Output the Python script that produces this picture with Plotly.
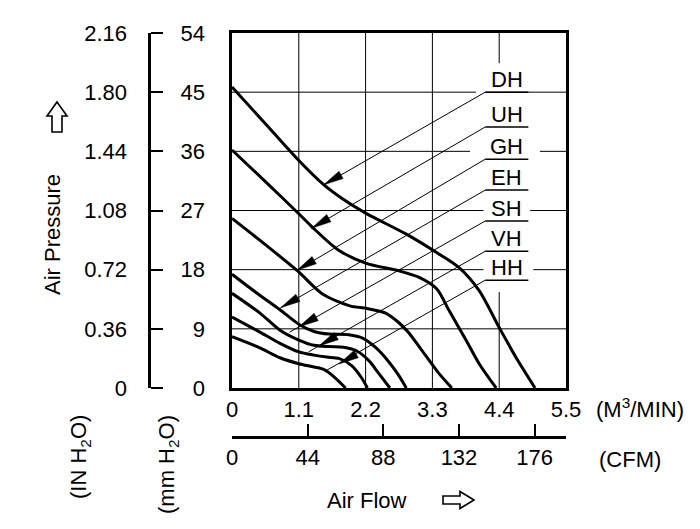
import math
import plotly.graph_objects as go

# ---------------- data ----------------
flow_ticks = [0, 1.1, 2.2, 3.3, 4.4, 5.5]
flow_labels = ["0", "1.1", "2.2", "3.3", "4.4", "5.5"]
cfm_ticks = [0, 44, 88, 132, 176]
cfm_labels = ["0", "44", "88", "132", "176"]
mm_ticks = [0, 9, 18, 27, 36, 45, 54]
mm_labels = ["0", "9", "18", "27", "36", "45", "54"]
in_labels = ["0", "0.36", "0.72", "1.08", "1.44", "1.80", "2.16"]
M3MIN_PER_CFM = 0.0283168

names = ["DH", "UH", "GH", "EH", "SH", "VH", "HH"]

DH_flow = [0, 0.55, 1.1, 1.5, 1.8, 2.2, 2.87, 3.37, 3.74, 4.07, 4.40, 4.68, 4.99]
DH_pres = [45.8, 40.2, 34.6, 31.0, 28.9, 26.6, 23.4, 20.6, 18.3, 14.8, 9.2, 4.6, 0]
UH_flow = [0, 0.55, 1.1, 1.33, 1.75, 2.2, 2.76, 3.09, 3.37, 3.58, 3.86, 4.07, 4.35]
UH_pres = [36.2, 31.4, 26.5, 24.4, 21.0, 19.0, 17.8, 16.8, 15.1, 11.7, 7.2, 3.7, 0]
GH_flow = [0, 0.55, 1.08, 1.49, 1.94, 2.22, 2.53, 2.74, 2.91, 3.12, 3.40, 3.62]
GH_pres = [25.8, 21.8, 17.8, 14.3, 12.5, 12.1, 11.4, 10.0, 8.4, 5.8, 2.3, 0]
EH_flow = [0, 0.4, 0.79, 1.1, 1.35, 1.6, 1.92, 2.15, 2.36, 2.58, 2.74, 2.87]
EH_pres = [17.3, 14.5, 11.9, 9.7, 8.6, 8.2, 8.1, 7.6, 6.2, 4.0, 2.0, 0]
SH_flow = [0, 0.46, 0.79, 1.1, 1.35, 1.6, 1.84, 2.04, 2.25, 2.41, 2.6]
SH_pres = [14.4, 11.4, 8.8, 7.3, 6.5, 6.3, 6.2, 5.7, 4.2, 2.3, 0]
VH_flow = [0, 0.46, 0.79, 1.1, 1.35, 1.56, 1.76, 1.97, 2.13, 2.23]
VH_pres = [10.8, 8.5, 6.8, 5.5, 5.0, 4.7, 4.5, 3.4, 1.6, 0]
HH_flow = [0, 0.46, 0.79, 1.1, 1.35, 1.52, 1.68, 1.87]
HH_pres = [7.8, 6.1, 4.6, 3.7, 3.2, 2.8, 1.7, 0]

curve_flow = [DH_flow, UH_flow, GH_flow, EH_flow, SH_flow, VH_flow, HH_flow]
curve_pres = [DH_pres, UH_pres, GH_pres, EH_pres, SH_pres, VH_pres, HH_pres]

# curve labels and their leader lines (data coordinates)
label_flow_start = 4.17
label_flow_end = 4.88
label_pres = [45.0, 39.7, 34.8, 30.1, 25.4, 20.8, 16.4]
tip_flow = [1.51, 1.31, 1.07, 0.80, 1.10, 1.43, 1.76]
tip_pres = [30.9, 24.3, 17.9, 12.2, 9.3, 6.4, 3.65]
tail_flow = [None, None, None, None, 0.95, 1.26, 1.56]
tail_pres = [None, None, None, None, 8.5, 5.5, 2.7]

# grid lines and the gaps left open around the labels
grid_pres = [9, 18, 27, 36, 45]
grid_pres_gap = {45: (4.02, 4.17), 36: (3.92, 5.07), 27: (4.14, 4.91), 18: (4.14, 4.96)}
grid_flow = [1.1, 2.2, 3.3, 4.4]
grid_flow_gap = {4.4: (14.6, 49.4)}

# ---------------- layout helpers ----------------
W, H = 700, 529
ML, MR, MT, MB = 0, 133, 33, 0
PW, PH = W - ML - MR, H - MT - MB
PLOT_L, PLOT_R, PLOT_T, PLOT_B = 232, 566, 33, 388
X_MAX, Y_MAX = 5.5, 54
PX_PER_X = (PLOT_R - PLOT_L) / X_MAX
PX_PER_Y = (PLOT_B - PLOT_T) / Y_MAX


def px_x(px):
    return (px - ML) / PW


def px_y(py):
    return (H - MB - py) / PH


def paper_path(points):
    return "M" + " L".join(f"{px_x(a):.5f},{px_y(b):.5f}" for a, b in points) + " Z"


FONT = "Liberation Sans, Arial, Helvetica, sans-serif"
fig = go.Figure()

for name, fx, py in zip(names, curve_flow, curve_pres):
    fig.add_trace(go.Scatter(x=fx, y=py, mode="lines", name=name,
                             line=dict(color="black", width=3, shape="spline", smoothing=0.8),
                             showlegend=False, hoverinfo="skip"))

shapes = []

# leaders
for i, name in enumerate(names):
    end_x = tail_flow[i] if tail_flow[i] is not None else tip_flow[i]
    end_y = tail_pres[i] if tail_pres[i] is not None else tip_pres[i]
    shapes.append(dict(type="line", xref="x", yref="y", x0=label_flow_start, y0=label_pres[i],
                       x1=end_x, y1=end_y, line=dict(color="black", width=1)))
    # arrowhead: elongated filled triangle, built in pixel space along the leader
    dx = (label_flow_start - tip_flow[i]) * PX_PER_X
    dy = (label_pres[i] - tip_pres[i]) * PX_PER_Y
    n = math.hypot(dx, dy)
    ux, uy = dx / n, dy / n
    L, HW = 20, 4.2
    bx, by = ux * L, uy * L
    pts = [(0, 0), (bx - uy * HW, by + ux * HW), (bx + uy * HW, by - ux * HW)]
    path = "M" + " L".join(f"{tip_flow[i] + a / PX_PER_X:.5f},{tip_pres[i] + b / PX_PER_Y:.5f}"
                           for a, b in pts) + " Z"
    shapes.append(dict(type="path", xref="x", yref="y", path=path, fillcolor="black",
                       line=dict(color="black", width=0.5)))

for g in grid_pres:
    if g in grid_pres_gap:
        a, b = grid_pres_gap[g]
        segs = [(0, a), (b, X_MAX)]
    else:
        segs = [(0, X_MAX)]
    for s0, s1 in segs:
        shapes.append(dict(type="line", xref="x", yref="y", x0=s0, x1=s1, y0=g, y1=g,
                           line=dict(color="black", width=1), layer="below"))
for g in grid_flow:
    if g in grid_flow_gap:
        a, b = grid_flow_gap[g]
        segs = [(0, a), (b, Y_MAX)]
    else:
        segs = [(0, Y_MAX)]
    for s0, s1 in segs:
        shapes.append(dict(type="line", xref="x", yref="y", x0=g, x1=g, y0=s0, y1=s1,
                           line=dict(color="black", width=1), layer="below"))
for lp in label_pres:
    shapes.append(dict(type="line", xref="x", yref="y", x0=label_flow_start, x1=label_flow_end,
                       y0=lp, y1=lp, line=dict(color="black", width=1.5)))

# outlined direction arrows next to the axis titles
up_arrow = [(57, 102), (67, 116), (62, 116), (62, 132), (52, 132), (52, 116), (47, 116)]
right_arrow = [(474, 500), (460, 491.5), (460, 496), (443, 496), (443, 504), (460, 504), (460, 508.5)]
for arr in (up_arrow, right_arrow):
    shapes.append(dict(type="path", xref="paper", yref="paper", path=paper_path(arr),
                       fillcolor="white", line=dict(color="black", width=1.6)))

annotations = []
for name, lp in zip(names, label_pres):
    annotations.append(dict(x=(label_flow_start + label_flow_end) / 2, y=lp, xref="x", yref="y",
                            text=name, showarrow=False, yanchor="bottom", xanchor="center",
                            font=dict(size=22, family=FONT, color="black"), yshift=-2))


def paper_text(text, x, y, size=22, angle=0, family=FONT):
    annotations.append(dict(x=px_x(x), y=px_y(y), xref="paper", yref="paper", text=text,
                            showarrow=False, textangle=angle, xanchor="center", yanchor="middle",
                            font=dict(size=size, family=family, color="black")))


paper_text("Air Pressure", 52, 235, angle=-90)
paper_text("(IN H<sub>2</sub>O)", 80, 457, angle=-90)
paper_text("(mm H<sub>2</sub>O)", 168, 465, angle=-90)
paper_text("Air Flow", 367, 500)
paper_text("(M<sup>3</sup>/MIN)", 640, 408)
paper_text("(CFM)", 630, 459)

dom_x = [px_x(PLOT_L), px_x(PLOT_R)]
dom_y = [px_y(PLOT_B), px_y(PLOT_T)]
tickfont = dict(size=22, family=FONT, color="black")

fig.update_layout(
    template="none",
    width=W, height=H, margin=dict(l=ML, r=MR, t=MT, b=MB, pad=0),
    plot_bgcolor="white", paper_bgcolor="white",
    shapes=shapes, annotations=annotations, showlegend=False,
    xaxis=dict(domain=dom_x, range=[0, X_MAX], tickvals=flow_ticks, ticktext=flow_labels,
               showgrid=False, zeroline=False, showline=True, mirror=True, linewidth=3,
               linecolor="black", ticks="", tickfont=tickfont, anchor="y", automargin=False),
    yaxis=dict(domain=dom_y, range=[0, Y_MAX], showticklabels=False, showgrid=False,
               zeroline=False, showline=True, mirror=True, linewidth=3, linecolor="black",
               ticks="", anchor="x", automargin=False),
    xaxis2=dict(overlaying="x", anchor="free", position=px_y(437), side="bottom",
                range=[0, X_MAX / M3MIN_PER_CFM], tickvals=cfm_ticks, ticktext=cfm_labels,
                showgrid=False, zeroline=False, showline=True, linewidth=3, linecolor="black",
                ticks="inside", ticklen=12, tickwidth=2, tickcolor="black", tickfont=tickfont,
                automargin=False),
    yaxis2=dict(overlaying="y", anchor="free", position=px_x(149), side="right",
                range=[0, Y_MAX], tickvals=mm_ticks, showticklabels=False, showgrid=False,
                zeroline=False, showline=True, linewidth=3, linecolor="black",
                ticks="outside", ticklen=12, tickwidth=2, tickcolor="black", automargin=False),
    yaxis3=dict(overlaying="y", anchor="free", position=px_x(205), side="left",
                range=[0, Y_MAX], tickvals=mm_ticks, ticktext=mm_labels, showgrid=False,
                zeroline=False, showline=False, ticks="", tickfont=tickfont, automargin=False),
    yaxis4=dict(overlaying="y", anchor="free", position=px_x(127), side="left",
                range=[0, Y_MAX], tickvals=mm_ticks, ticktext=in_labels, showgrid=False,
                zeroline=False, showline=False, ticks="", tickfont=tickfont, automargin=False),
)

# dummy traces so the extra axes are drawn
fig.add_trace(go.Scatter(x=[None], y=[None], xaxis="x2", yaxis="y2", showlegend=False))
fig.add_trace(go.Scatter(x=[None], y=[None], xaxis="x", yaxis="y3", showlegend=False))
fig.add_trace(go.Scatter(x=[None], y=[None], xaxis="x", yaxis="y4", showlegend=False))

fig.write_html("out.html")
